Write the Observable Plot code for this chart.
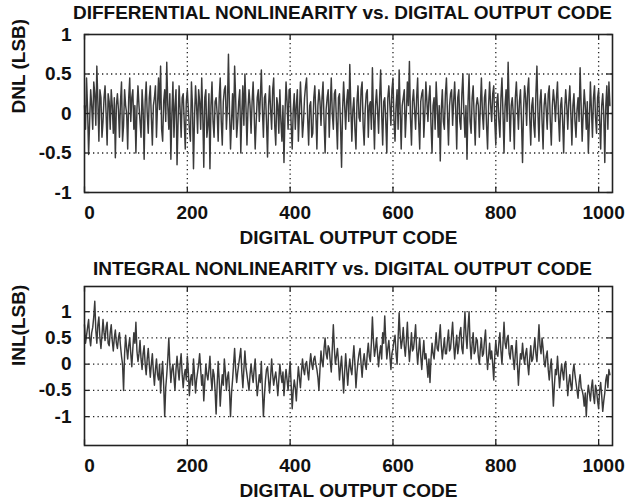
<!DOCTYPE html>
<html><head><meta charset="utf-8">
<script src="https://cdn.jsdelivr.net/npm/d3@7"></script>
<script src="https://cdn.jsdelivr.net/npm/@observablehq/plot@0.6"></script>
<style>
body{margin:0;background:#fff;}
#wrap{position:relative;width:626px;height:500px;overflow:hidden;background:#fff;}
#wrap svg{position:absolute;left:0;}
</style></head><body><div id="wrap"></div>
<script>
// ---- data ----
const codeStep = 2; // one sample every 2 output codes
const dnl = [
 0.1,-0.2,0.45,0.05,-0.52,-0.1,0.3,0.1,-0.2,0.4,0.25,-0.15,0.6,0.15,-0.35,0.3,0.2,-0.3,-0.1,0.2,0.35,0.0,-0.4,0.25,0.15,-0.2,0.3,0.1,-0.25,0.2,-0.56,0.1,
 0.25,0.05,-0.3,0.15,0.4,-0.35,-0.15,0.3,0.1,0.0,-0.45,0.2,0.45,-0.1,0.2,0.3,-0.2,0.1,-0.5,0.05,0.35,0.1,-0.1,-0.3,0.3,0.05,-0.58,0.15,0.4,0.0,-0.25,0.2,
 0.35,-0.05,-0.4,0.1,0.2,0.35,-0.3,0.1,0.45,0.05,0.6,-0.2,-0.35,0.15,0.3,-0.1,0.65,0.1,-0.2,0.25,-0.58,0.0,0.4,-0.3,0.1,0.3,-0.65,-0.1,0.35,0.05,-0.3,0.2,
 0.25,-0.1,-0.45,0.15,0.3,0.05,-0.2,-0.35,0.4,0.1,-0.7,-0.05,0.35,0.1,-0.25,0.3,0.15,-0.2,0.45,0.0,-0.68,0.2,0.3,-0.3,-0.15,0.25,-0.7,0.1,0.4,-0.1,-0.3,0.15,
 0.2,0.0,-0.35,0.2,0.45,-0.1,-0.4,0.15,0.3,0.35,-0.2,0.1,0.75,0.05,-0.45,-0.1,0.25,-0.2,0.6,0.2,-0.3,-0.1,0.15,0.3,-0.5,0.0,0.35,-0.15,0.5,0.1,-0.4,0.05,
 0.3,0.1,-0.25,0.15,0.4,0.0,-0.45,-0.1,0.2,0.3,-0.1,0.2,0.55,0.05,-0.3,0.2,0.25,-0.1,-0.55,0.1,0.35,0.05,-0.2,0.3,0.45,-0.15,-0.4,0.2,0.1,-0.25,0.3,-0.1,
 -0.35,0.1,-0.62,0.0,0.4,0.15,-0.2,0.3,0.3,-0.15,-0.45,0.05,0.25,-0.2,0.1,0.3,-0.35,0.0,0.4,0.1,-0.3,-0.1,0.2,0.35,0.45,-0.05,-0.4,0.1,0.15,-0.3,-0.25,0.2,
 0.35,0.0,-0.45,0.1,0.3,0.15,-0.15,0.2,0.4,-0.1,-0.5,0.05,0.2,0.3,-0.3,0.1,0.45,0.0,-0.2,0.25,0.3,-0.1,-0.45,0.2,0.25,-0.15,-0.68,0.05,0.4,0.1,-0.2,0.15,
 0.3,-0.1,0.62,0.1,-0.35,0.05,0.2,-0.2,-0.45,0.15,0.35,-0.05,-0.1,0.3,0.4,-0.15,-0.4,0.05,0.25,0.3,-0.3,0.1,0.15,-0.2,0.58,0.0,-0.45,0.1,0.3,0.05,-0.25,0.2,
 0.55,0.0,-0.4,0.15,0.2,-0.1,-0.5,0.2,0.35,0.1,-0.15,0.3,0.45,-0.1,-0.35,0.1,0.3,-0.2,0.55,0.05,-0.45,0.1,0.2,0.3,-0.3,0.0,0.4,0.1,0.66,-0.05,-0.4,0.15,
 0.3,0.05,-0.2,0.2,0.45,-0.1,-0.45,0.15,0.25,0.3,-0.3,0.0,0.4,0.15,-0.1,0.2,0.35,-0.15,-0.5,0.1,0.2,-0.2,0.4,0.1,-0.3,0.1,-0.6,0.05,0.3,-0.1,-0.2,0.25,
 0.45,0.0,-0.4,0.1,0.25,0.3,-0.15,0.15,0.4,0.05,-0.45,0.2,0.3,-0.1,-0.2,0.25,0.5,0.0,-0.3,0.1,-0.58,0.15,0.5,-0.1,-0.25,0.2,0.35,-0.05,-0.4,0.1,0.2,0.1,
 -0.3,0.1,0.45,0.0,-0.2,0.2,0.3,-0.15,-0.45,0.1,0.4,0.1,-0.1,0.25,0.35,-0.1,-0.4,0.15,0.25,-0.1,-0.3,0.2,0.45,0.0,-0.5,0.1,0.3,-0.1,0.65,0.1,-0.35,0.1,
 0.2,0.0,-0.45,0.2,0.4,0.1,-0.2,0.15,0.3,-0.1,-0.62,0.05,0.35,0.2,-0.15,0.3,0.45,-0.05,-0.4,0.1,0.2,-0.15,-0.3,0.25,0.6,0.0,-0.35,0.15,0.3,-0.1,-0.45,0.1,
 0.25,0.05,-0.2,0.25,0.35,-0.1,-0.4,0.1,0.3,0.15,-0.1,0.2,0.4,-0.05,-0.35,0.1,0.2,-0.1,-0.5,0.05,0.3,0.1,-0.2,0.15,0.35,0.0,-0.4,0.1,0.25,-0.1,-0.3,0.05,
 0.2,-0.1,0.58,0.1,-0.35,0.0,0.3,0.1,-0.2,0.15,-0.5,-0.1,0.4,0.05,-0.3,0.2,0.35,-0.05,-0.25,0.2,0.3,-0.1,-0.45,0.1,0.25,0.0,-0.62,0.1,0.35,-0.2,0.4,0.1
];
const inl = [
 0.75,0.4,0.55,0.7,0.85,0.5,0.35,0.6,0.7,0.9,1.2,0.65,0.4,0.75,0.9,0.5,0.3,0.55,0.85,0.6,0.45,0.7,0.8,0.4,0.35,0.6,0.75,0.45,0.25,0.5,0.65,0.4,
 0.3,0.5,0.6,0.35,0.15,0.0,-0.5,0.2,0.55,0.3,0.1,0.35,0.5,0.2,-0.05,0.3,0.6,0.4,0.8,0.25,0.05,0.2,0.45,0.1,-0.1,0.2,0.35,0.0,-0.2,0.1,0.3,0.0,
 -0.25,0.0,0.2,-0.15,-0.4,-0.1,0.1,-0.2,-0.3,0.0,-0.55,-0.2,0.05,-0.4,-1.0,-0.45,-0.2,0.1,0.5,0.0,-0.35,-0.1,0.0,-0.25,-0.5,-0.1,0.15,-0.1,-0.3,0.0,0.2,-0.2,
 -0.45,-0.2,-0.1,-0.3,0.15,-0.15,-0.6,-0.3,-0.2,-0.4,0.1,-0.2,-0.55,-0.3,-0.15,0.0,0.2,-0.1,-0.4,-0.2,-0.7,-0.35,0.0,-0.2,-0.3,-0.1,0.15,-0.25,-0.5,-0.1,-0.2,-0.5,
 -0.95,-0.4,0.05,-0.3,-0.8,-0.45,-0.2,-0.4,0.1,-0.15,-0.5,-0.25,-0.15,-0.5,-1.0,-0.55,-0.3,0.0,0.3,-0.1,-0.35,-0.15,0.0,0.15,0.3,-0.15,-0.45,-0.1,0.25,-0.05,-0.2,-0.35,
 -0.5,-0.2,0.0,-0.2,-0.35,-0.1,0.1,-0.3,-0.6,-0.4,-0.2,-0.35,0.05,-0.5,-1.0,-0.6,-0.3,-0.1,-0.05,-0.3,-0.55,-0.25,0.1,-0.2,-0.4,-0.25,-0.15,-0.35,-0.6,-0.3,0.0,-0.2,
 -0.35,-0.15,-0.6,-0.3,-0.1,-0.3,-0.5,-0.2,0.05,-0.4,-0.85,-0.5,-0.3,-0.45,-0.7,-0.35,-0.05,-0.25,-0.45,-0.15,0.1,-0.1,-0.2,0.0,0.05,-0.15,-0.3,0.0,0.2,0.0,-0.1,0.1,
 0.15,0.0,-0.1,-0.25,-0.5,-0.1,0.25,0.05,-0.05,0.3,0.5,0.2,0.1,0.35,0.3,0.05,-0.15,0.3,0.75,0.3,0.0,0.15,0.3,0.05,-0.3,-0.05,0.15,-0.2,-0.55,-0.15,0.2,-0.1,
 -0.4,-0.1,0.1,-0.1,-0.2,0.1,0.35,0.0,-0.45,-0.15,0.05,0.2,0.3,0.0,-0.25,0.05,0.2,0.0,-0.1,0.2,0.4,0.15,0.05,0.4,0.9,0.45,0.15,0.3,0.5,0.2,-0.05,0.2,
 0.35,0.1,0.6,0.4,0.92,0.45,0.1,0.3,0.45,0.15,-0.1,0.2,0.3,0.45,0.55,0.2,0.0,0.5,0.98,0.55,0.3,0.45,0.7,0.35,0.15,0.45,0.8,0.35,0.05,0.3,0.6,0.25,
 0.3,0.5,0.75,0.3,0.0,0.25,0.5,0.15,-0.1,0.2,0.45,0.1,0.2,0.0,-0.25,0.1,-0.35,0.1,0.4,0.2,0.1,0.35,0.6,0.3,0.25,0.5,0.75,0.35,0.1,0.3,0.5,0.2,
 0.2,0.45,0.65,0.25,0.3,0.55,0.8,0.4,0.1,0.35,0.55,0.2,0.35,0.6,0.7,0.3,0.2,0.6,1.0,0.55,0.3,0.7,1.0,0.4,0.1,0.4,0.6,0.2,0.25,0.5,0.45,0.15,
 0.0,0.3,0.5,0.15,0.2,0.45,0.65,0.2,-0.1,0.15,0.4,0.1,0.25,0.0,-0.3,0.15,0.45,0.2,0.15,0.4,0.6,0.25,0.0,0.4,0.8,0.4,0.3,0.5,0.55,0.2,0.1,0.35,
 0.35,0.1,-0.1,0.2,0.45,0.0,-0.4,-0.05,0.2,0.1,0.4,0.15,0.0,0.2,0.3,0.0,-0.2,0.1,0.35,0.05,0.1,0.3,0.5,0.2,0.05,0.4,0.75,0.35,0.2,0.5,0.3,0.05,
 -0.05,0.15,0.25,-0.1,-0.3,-0.05,0.1,-0.35,-0.8,-0.4,-0.1,-0.2,0.15,-0.15,-0.45,-0.2,0.0,-0.15,-0.3,0.0,0.05,-0.3,-0.6,-0.35,-0.2,-0.4,-0.5,-0.15,0.0,-0.2,-0.35,-0.5,
 -0.65,-0.35,-0.2,-0.45,-0.5,-0.6,-0.8,-0.55,-1.0,-0.6,-0.4,-0.55,-0.7,-0.45,-0.3,-0.6,-0.75,-0.4,-0.5,-0.7,-0.85,-0.5,-0.35,-0.6,-0.9,-0.7,-0.55,-0.3,-0.2,-0.45,-0.1,-0.2
];
const xTicks = [0, 200, 400, 600, 800, 1000];
const dnlTicks = [-1, -0.5, 0, 0.5, 1];
const inlTicks = [-1, -0.5, 0, 0.5, 1];
const dnlTitle = "DIFFERENTIAL NONLINEARITY vs. DIGITAL OUTPUT CODE";
const inlTitle = "INTEGRAL NONLINEARITY vs. DIGITAL OUTPUT CODE";
const xLabel = "DIGITAL OUTPUT CODE";
const dnlLabel = "DNL (LSB)";
const inlLabel = "INL(LSB)";

const FONT = "'Liberation Sans', Arial, sans-serif";

function panel({values, title, ylabel, yDomain, yTicks, gridY, top, marginTop, marginBottom, titleDy}) {
  const data = values.map((v, i) => ({code: i * codeStep, v}));
  const xDomain = [0, 1027];
  const [y0, y1] = yDomain;
  const ty = (y1 - y0) * 0.035, tx = (xDomain[1] - xDomain[0]) * 0.01;
  const chart = Plot.plot({
    width: 626, height: 250,
    marginLeft: 84, marginRight: 14, marginTop, marginBottom,
    style: {fontFamily: FONT, fontSize: "19px", fontWeight: "bold", color: "#111", background: "transparent", overflow: "visible"},
    x: {domain: xDomain},
    y: {domain: yDomain},
    marks: [
      Plot.ruleX(xTicks.filter(d => d > 0), {stroke: "#222", strokeWidth: 1.3, strokeDasharray: "1.3,3.2"}),
      Plot.ruleY(gridY, {stroke: "#222", strokeWidth: 1.3, strokeDasharray: "1.3,3.2"}),
      Plot.line(data, {x: "code", y: "v", stroke: "#3a3a3a", strokeWidth: 1.45}),
      Plot.ruleX(xTicks, {y1: y0, y2: y0 + ty, stroke: "#222", strokeWidth: 1.3}),
      Plot.ruleX(xTicks, {y1: y1, y2: y1 - ty, stroke: "#222", strokeWidth: 1.3}),
      Plot.ruleY(yTicks, {x1: xDomain[0], x2: xDomain[0] + tx, stroke: "#222", strokeWidth: 1.3}),
      Plot.ruleY(yTicks, {x1: xDomain[1], x2: xDomain[1] - tx, stroke: "#222", strokeWidth: 1.3}),
      Plot.frame({stroke: "#222", strokeWidth: 1.6}),
      Plot.axisX({ticks: xTicks, tickSize: 0, tickPadding: 13, dx: 5, label: null, tickFormat: d => String(d), fill: "#111"}),
      Plot.axisY({ticks: yTicks, tickSize: 0, tickPadding: 13, label: null, tickFormat: d => String(d), fill: "#111"}),
      Plot.text([title], {frameAnchor: "top", dy: titleDy, dx: -6, fontSize: 19, fontWeight: "bold", fill: "#111"}),
      Plot.text([xLabel], {frameAnchor: "bottom", dy: 51, fontSize: 19, fontWeight: "bold", fill: "#111"}),
      Plot.text([ylabel], {frameAnchor: "left", dx: -66, rotate: -90, fontSize: 19, fontWeight: "bold", fill: "#111"})
    ]
  });
  chart.style.top = top + "px";
  return chart;
}

const wrap = document.getElementById("wrap");
const c1 = panel({values: dnl, title: dnlTitle, ylabel: dnlLabel, yDomain: [-1, 1], yTicks: dnlTicks, gridY: [-0.5, 0, 0.5], top: 0, marginTop: 34, marginBottom: 58, titleDy: -29});
const c2 = panel({values: inl, title: inlTitle, ylabel: inlLabel, yDomain: [-1.55, 1.48], yTicks: inlTicks, gridY: inlTicks, top: 250, marginTop: 36, marginBottom: 55, titleDy: -25});
wrap.append(c1, c2);
</script></body></html>
